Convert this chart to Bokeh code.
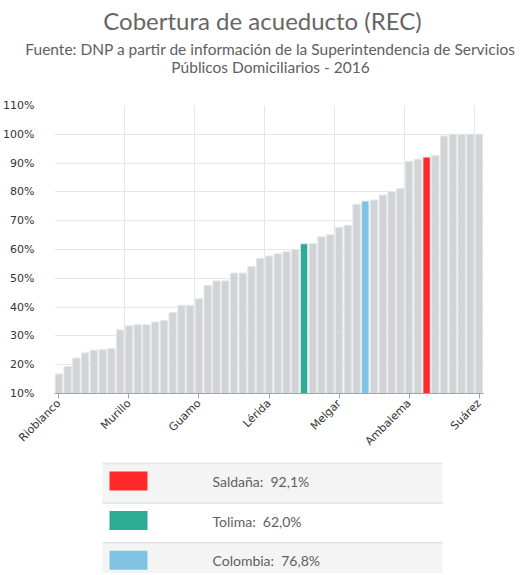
import math
from bokeh.plotting import figure
from bokeh.models import FixedTicker, Range1d, PrintfTickFormatter, ColumnDataSource
from bokeh.layouts import column
from bokeh.core.properties import value
from bokeh.embed import file_html
from bokeh.resources import INLINE

# ---------------- data ----------------
title_text = "Cobertura de acueducto (REC)"
subtitle_lines = ["Fuente: DNP a partir de información de la Superintendencia de Servicios",
                  "Públicos Domiciliarios - 2016"]

names = ["Rioblanco", "Planadas", "Ataco", "Roncesvalles", "Chaparral", "Natagaima", "Coyaima",
         "Santa Isabel", "Murillo", "Rovira", "San Antonio", "Ortega", "Villahermosa", "Herveo",
         "Anzoátegui", "Casabianca", "Guamo", "Alpujarra", "Dolores", "Valle de San Juan",
         "Cajamarca", "Coello", "Prado", "San Luis", "Lérida", "Purificación", "Alvarado",
         "Icononzo", "Tolima", "Piedras", "Cunday", "Villarrica", "Melgar", "Palocabildo",
         "Falan", "Colombia", "Fresno", "Líbano", "Mariquita", "Carmen de Apicalá", "Ambalema",
         "Venadillo", "Saldaña", "Espinal", "Flandes", "Ibagué", "Honda", "Armero", "Suárez"]
coverage = [16.8, 19.4, 22.3, 24.1, 25.0, 25.2, 25.6,
            32.1, 33.5, 33.9, 33.9, 34.8, 35.3, 38.1,
            40.6, 40.6, 42.9, 47.5, 49.1, 49.1,
            51.8, 51.8, 54.1, 56.9, 57.7, 58.5, 59.2,
            60.0, 62.0, 62.0, 64.4, 65.1, 67.7, 68.4,
            75.7, 76.8, 77.2, 78.9, 80.1, 81.2, 90.6,
            91.3, 92.1, 92.6, 99.4, 100.0, 100.0, 100.0, 100.0]

highlight_names = ["Saldaña", "Tolima", "Colombia"]
highlight_values = [92.1, 62.0, 76.8]
highlight_colors = ["#ff2a2a", "#2eab93", "#80c3e2"]
base_color = "#d3d3d3"

y_ticks = list(range(10, 111, 10))
label_every = 8

# ---------------- header ----------------
W = 524
HH, CH, LH = 95, 360, 118
TXT = "#606060"
hfont = value("Lato")

header = figure(width=W, height=HH, x_range=Range1d(0, W), y_range=Range1d(HH, 0),
                x_axis_location=None, y_axis_location=None, toolbar_location=None,
                output_backend="svg", min_border=0, outline_line_color=None, frame_align=False)
header.grid.visible = False
header.text(x=[262], y=[20], text=[title_text], text_align="center", text_baseline="middle",
            text_font=hfont, text_font_size="24px", text_color="#666666")
header.text(x=[270, 270], y=[48, 66], text=subtitle_lines, text_align="center",
            text_baseline="middle", text_font=hfont, text_font_size="15.5px", text_color=TXT)

# ---------------- chart ----------------
xs = list(range(len(names)))
colors = [highlight_colors[highlight_names.index(n)] if n in highlight_names else base_color
          for n in names]
src = ColumnDataSource(dict(x=xs, top=coverage, color=colors, name=names))

chart = figure(width=W, height=CH, x_range=Range1d(-0.5, len(names) - 0.5),
               y_range=Range1d(y_ticks[0], y_ticks[-1]), toolbar_location=None,
               output_backend="svg", outline_line_color=None, frame_align=False,
               min_border_left=53, min_border_right=41, min_border_top=10, min_border_bottom=61)
chart.vbar(x="x", top="top", bottom=y_ticks[0], width=0.84, fill_color="color",
           line_color="#dde9ef", line_width=1, source=src)

tick_idx = list(range(0, len(names), label_every))
chart.xaxis.ticker = FixedTicker(ticks=tick_idx)
chart.xaxis.major_label_overrides = {i: names[i] for i in tick_idx}
chart.xaxis.major_label_orientation = math.pi / 4
chart.xaxis.major_label_text_font = "DejaVu Sans"
chart.xaxis.major_label_text_font_size = "11px"
chart.xaxis.major_label_text_color = "#333333"
chart.xaxis.axis_line_color = "#9aa4aa"
chart.xaxis.major_tick_line_color = "#9aa4aa"
chart.xaxis.major_tick_out = 5
chart.xaxis.major_tick_in = 0
chart.xaxis.minor_tick_line_color = None
chart.xaxis.major_label_standoff = 3

chart.yaxis.ticker = FixedTicker(ticks=y_ticks)
chart.yaxis.formatter = PrintfTickFormatter(format="%d%%")
chart.yaxis.axis_line_color = None
chart.yaxis.major_tick_line_color = None
chart.yaxis.minor_tick_line_color = None
chart.yaxis.major_label_text_font = "DejaVu Sans"
chart.yaxis.major_label_text_font_size = "11px"
chart.yaxis.major_label_text_color = "#333333"
chart.yaxis.major_label_standoff = 14

chart.ygrid.ticker = FixedTicker(ticks=y_ticks)
chart.ygrid.grid_line_color = "#e6e6e6"
chart.xgrid.ticker = FixedTicker(ticks=[i - 0.5 for i in tick_idx])
chart.xgrid.grid_line_color = "#e6e6e6"

# ---------------- legend table ----------------
leg = figure(width=W, height=LH, x_range=Range1d(0, W), y_range=Range1d(LH, 0),
             x_axis_location=None, y_axis_location=None, toolbar_location=None,
             output_backend="svg", min_border=0, outline_line_color=None, frame_align=False)
leg.grid.visible = False
row_h = 39.6
row_top = [8 + k * row_h for k in range(len(highlight_names))]
row_bot = [t + row_h for t in row_top]
row_bot[-1] = LH
row_fill = ["#f4f4f4" if k % 2 == 0 else "#ffffff" for k in range(len(highlight_names))]
leg.quad(left=102, right=442, top=row_top, bottom=row_bot,
         fill_color=row_fill, line_color=None)
leg.segment(x0=102, x1=442, y0=row_top, y1=row_top, line_color="#e2e2e2", line_width=1.5)
leg.quad(left=109, right=147, top=[t + 8 for t in row_top], bottom=[t + 27 for t in row_top],
         fill_color=highlight_colors, line_color=None)
leg_text = [f"{n}:\u00a0 {v:.1f}".replace(".", ",") + "%" for n, v in zip(highlight_names, highlight_values)]
leg.text(x=212, y=[t + 18 for t in row_top], text=leg_text, text_align="left",
         text_baseline="middle", text_font=hfont, text_font_size="14px", text_color=TXT)

layout = column(header, chart, leg, spacing=0)
open("out.html", "w").write(file_html(layout, INLINE))
